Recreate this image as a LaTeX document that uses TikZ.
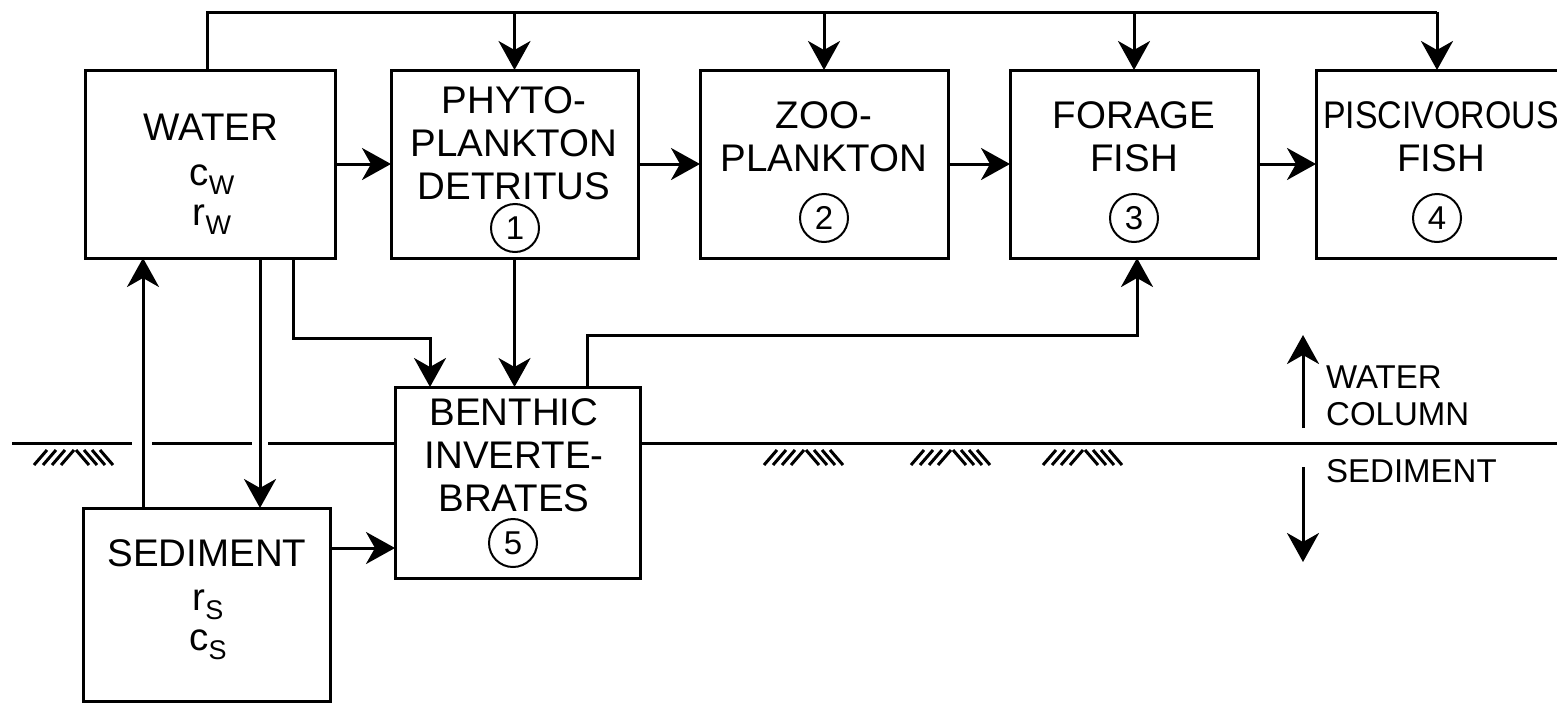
\documentclass[tikz,border=0pt]{standalone}
\usepackage{fontspec}
\setmainfont{Liberation Sans}
\usetikzlibrary{arrows.meta,calc}
\begin{document}
\begin{tikzpicture}[x=1pt,y=-1pt,
  box/.style={draw,line width=3pt,inner sep=0pt,outer sep=0pt},
  lbl/.style={align=center,inner sep=0pt,font=\fontsize{38.5}{43}\selectfont},
  side/.style={align=left,inner sep=0pt,anchor=west,font=\fontsize{33}{37}\selectfont},
  num/.style={draw,circle,line width=2pt,minimum size=48pt,inner sep=0pt,font=\fontsize{33}{33}\selectfont},
  ln/.style={line width=3pt},
  arr/.style={line width=3pt,-{Stealth[length=29pt,width=32pt,inset=9pt]}},
  hatchpic/.pic={
    \foreach \i in {0,9,18,27} \draw[line width=3pt] (\i,15) -- (\i+13,0);
    \foreach \i in {42,50,58,66} \draw[line width=3pt] (\i,0) -- (\i+13,15);
  }]
\clip (0,0) rectangle (1557,704);
\fill[white] (0,0) rectangle (1557,704);

% boxes
\node[box,minimum width=250pt,minimum height=188pt] (water) at (210,164) {};
\node[box,minimum width=247pt,minimum height=188pt] (phyto) at (514.5,164) {};
\node[box,minimum width=248pt,minimum height=188pt] (zoo) at (824,164) {};
\node[box,minimum width=248pt,minimum height=188pt] (forage) at (1134,164) {};
\node[box,minimum width=264pt,minimum height=188pt] (pisc) at (1448,164) {};
\node[box,minimum width=245pt,minimum height=191pt] (benthic) at (517.5,482.5) {};
\node[box,minimum width=247pt,minimum height=193pt] (sediment) at (206.5,604.5) {};

% labels
\node[lbl] (twater) at (211,127) {WATER};
\node[lbl] (tcw) at (212,180) {c\raisebox{-9pt}{\fontsize{27}{27}\selectfont W}};
\node[lbl] (trw) at (212,220) {r\raisebox{-9pt}{\fontsize{27}{27}\selectfont W}};
\node[lbl] (tphyto) at (514,143) {PHYTO-\\PLANKTON\\DETRITUS};
\node[lbl] (tzoo) at (824,137) {ZOO-\\PLANKTON};
\node[lbl] (tforage) at (1134,137) {FORAGE\\FISH};
\node[lbl] (tpisc) at (1441,137) {\scalebox{0.88}[1]{PISCIVOROUS}\\FISH};
\node[lbl] (tbenthic) at (514,455) {BENTHIC\\INVERTE-\\BRATES};
\node[lbl] (tsed) at (207,553) {SEDIMENT};
\node[lbl] (trs) at (208,605) {r\raisebox{-9pt}{\fontsize{27}{27}\selectfont S}};
\node[lbl] (tcs) at (208,645) {c\raisebox{-9pt}{\fontsize{27}{27}\selectfont S}};

% circled numbers
\node[num] (n1) at (515,228) {1};
\node[num] (n2) at (824,218) {2};
\node[num] (n3) at (1134,218) {3};
\node[num] (n4) at (1437,218) {4};
\node[num] (n5) at (513,543) {5};

% helper coordinates
\coordinate (tl) at (207,12);
\coordinate (tr) at (1437,12);
\coordinate (xup) at (143,0);
\coordinate (xdown) at (260,0);
\coordinate (xb) at (293,0);
\coordinate (cb) at (430,338);
\coordinate (xo) at (587,0);
\coordinate (cf) at (1137,335);
\coordinate (ys) at (0,548);

% top distribution line
\draw[ln] (water.north -| tl) -- (tl) -- (tr);
\draw[arr] (phyto.north |- tl) -- (phyto.north);
\draw[arr] (zoo.north |- tl) -- (zoo.north);
\draw[arr] (forage.north |- tl) -- (forage.north);
\draw[arr] (tr) -- (tr |- pisc.north);

% food chain arrows
\draw[arr] (water) -- (phyto);
\draw[arr] (phyto) -- (zoo);
\draw[arr] (zoo) -- (forage);
\draw[arr] (forage) -- (pisc);

% water <-> sediment
\draw[arr] (sediment.north -| xup) -- (water.south -| xup);
\draw[arr] (water.south -| xdown) -- (sediment.north -| xdown);

% to benthic
\draw[arr] (water.south -| xb) |- (cb) -- (benthic.north -| cb);
\draw[arr] (phyto.south) -- (benthic.north -| phyto.south);
\draw[arr] (benthic.north -| xo) |- (cf) -- (forage.south -| cf);
\draw[arr] (sediment.east |- ys) -- (benthic.west |- ys);

% sediment surface
\coordinate (g0) at (12,443);
\coordinate (g1) at (132,443);
\coordinate (g2) at (152,443);
\coordinate (g3) at (252,443);
\coordinate (g4) at (268,443);
\draw[ln] (g0) -- (g1);
\draw[ln] (g2) -- (g3);
\draw[ln] (g4) -- (benthic.west |- g4);
\draw[ln] (benthic.east |- g4) -- (1560,443);
\pic at (34,450) {hatchpic};
\pic at (764,450) {hatchpic};
\pic at (911,450) {hatchpic};
\pic at (1043,450) {hatchpic};

% side legend
\coordinate (wu0) at (1303,428);
\coordinate (wu1) at (1303,335);
\coordinate (sd0) at (1303,467);
\coordinate (sd1) at (1303,562);
\draw[arr] (wu0) -- (wu1);
\draw[arr] (sd0) -- (sd1);
\node[side] (twc) at (1326,396) {WATER\\COLUMN};
\node[side] (tsd) at (1326,471) {SEDIMENT};
\end{tikzpicture}
\end{document}
